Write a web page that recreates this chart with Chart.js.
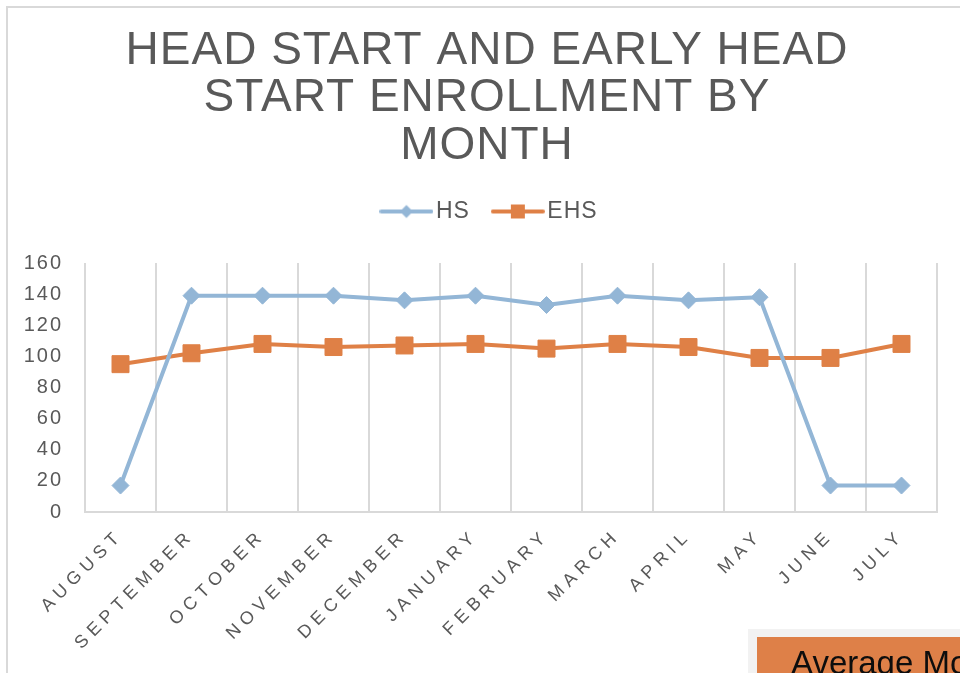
<!DOCTYPE html>
<html>
<head>
<meta charset="utf-8">
<script src="https://cdn.jsdelivr.net/npm/chart.js@4/dist/chart.umd.min.js"></script>
<style>
  html, body { margin: 0; padding: 0; background: #ffffff; overflow: hidden; width: 960px; height: 673px; }
  #frame { position: absolute; left: 6px; top: 6px; width: 2000px; height: 2000px;
           border-left: 2px solid #d9d9d9; border-top: 2px solid #d9d9d9; }
  #c { position: absolute; left: 0; top: 0; }
  #grayBox { position: absolute; left: 748px; top: 629px; width: 400px; height: 200px; background: #f2f2f2; }
  #orangeBox { position: absolute; left: 757px; top: 637px; width: 400px; height: 200px; background: #de8048;
               font-family: 'Liberation Sans', Arial, sans-serif; font-size: 33px; color: #0d0d0d;
               white-space: nowrap; }
  #orangeBox span { position: absolute; left: 34px; top: 7px; line-height: 38px; }
</style>
</head>
<body>
<div id="frame"></div>
<canvas id="c" width="960" height="673"></canvas>
<div id="grayBox"></div>
<div id="orangeBox"><span>Average Monthly Enrollment</span></div>
<script>
// ---- data ----
const months = ['AUGUST','SEPTEMBER','OCTOBER','NOVEMBER','DECEMBER','JANUARY','FEBRUARY','MARCH','APRIL','MAY','JUNE','JULY'];
const hsValues  = [17, 139, 139, 139, 136, 139, 133, 139, 136, 138, 17, 17];
const ehsValues = [95, 102, 108, 106, 107, 108, 105, 108, 106, 99, 99, 108];
const seriesNames = ['HS', 'EHS'];
const titleLines = ['HEAD START AND EARLY HEAD', 'START ENROLLMENT BY', 'MONTH'];
const yTicks = { min: 0, max: 160, step: 20 };

// ---- styles ----
const HS_COLOR = '#93b6d6';
const EHS_COLOR = '#df8046';
const TEXT_COLOR = '#595959';
const GRID_COLOR = '#d9d9d9';
const FAMILY = "'Liberation Sans', Arial, sans-serif";

// letter spacing by font size (Excel-like spaced text)
const LS = { '46': '1px', '23': '1px', '20': '2px', '18': '5.5px' };
(function () {
  const proto = CanvasRenderingContext2D.prototype;
  const desc = Object.getOwnPropertyDescriptor(proto, 'font');
  Object.defineProperty(proto, 'font', {
    configurable: true,
    get() { return desc.get.call(this); },
    set(v) {
      desc.set.call(this, v);
      const m = /(\d+(?:\.\d+)?)px/.exec(v);
      const s = m ? LS[m[1]] : null;
      try { this.letterSpacing = s || '0px'; } catch (e) {}
    }
  });
})();

function legendIcon(color, kind) {
  const cv = document.createElement('canvas');
  cv.width = 54; cv.height = 22;
  const g = cv.getContext('2d');
  g.strokeStyle = color; g.fillStyle = color;
  g.lineWidth = 4; g.lineCap = 'round';
  g.beginPath(); g.moveTo(2, 11); g.lineTo(52, 11); g.stroke();
  g.beginPath();
  if (kind === 'diamond') {
    g.moveTo(27 - 6.5, 11); g.lineTo(27, 11 - 6.5); g.lineTo(27 + 6.5, 11); g.lineTo(27, 11 + 6.5);
  } else {
    g.rect(27 - 7, 11 - 7, 14, 14);
  }
  g.closePath(); g.fill();
  return cv;
}
const icons = [legendIcon(HS_COLOR, 'diamond'), legendIcon(EHS_COLOR, 'square')];

// layout helper: extra space under legend, and centre title/legend like the original frame
const layoutTweaks = {
  id: 'layoutTweaks',
  beforeUpdate(chart) {
    const lg = chart.legend;
    if (lg && !lg._patched) {
      const orig = lg.fit;
      lg.fit = function () { orig.call(this); this.height += 30; };
      lg._patched = true;
    }
  },
  afterLayout(chart) {
    if (chart.titleBlock) { chart.titleBlock.left = 37; }
    if (chart.legend) { chart.legend.left = 49; }
  }
};

const ctx = document.getElementById('c').getContext('2d');
new Chart(ctx, {
  type: 'line',
  plugins: [layoutTweaks],
  data: {
    labels: months,
    datasets: [
      { label: seriesNames[0], data: hsValues, borderColor: HS_COLOR, backgroundColor: HS_COLOR,
        borderWidth: 4, pointStyle: 'rectRot', pointRadius: 8.5, pointBorderWidth: 1,
        pointBackgroundColor: HS_COLOR, pointBorderColor: HS_COLOR, tension: 0,
        borderCapStyle: 'round', borderJoinStyle: 'round', fill: false },
      { label: seriesNames[1], data: ehsValues, borderColor: EHS_COLOR, backgroundColor: EHS_COLOR,
        borderWidth: 4, pointStyle: 'rect', pointRadius: 12, pointBorderWidth: 1,
        pointBackgroundColor: EHS_COLOR, pointBorderColor: EHS_COLOR, tension: 0,
        borderCapStyle: 'round', borderJoinStyle: 'round', fill: false }
    ]
  },
  options: {
    responsive: false,
    animation: false,
    devicePixelRatio: 1,
    layout: { padding: { left: 0, right: 23, top: 0, bottom: 0 } },
    plugins: {
      tooltip: { enabled: false },
      title: {
        display: true,
        text: titleLines,
        color: TEXT_COLOR,
        font: { family: FAMILY, size: 46, weight: 'normal', lineHeight: 47.5 / 46 },
        padding: { top: 27.5, bottom: 0 }
      },
      legend: {
        display: true,
        position: 'top',
        labels: {
          usePointStyle: true,
          pointStyleWidth: 36,
          padding: 30,
          color: TEXT_COLOR,
          font: { family: FAMILY, size: 23 },
          generateLabels(chart) {
            const items = Chart.defaults.plugins.legend.labels.generateLabels(chart);
            items.forEach((it, i) => { it.pointStyle = icons[i]; it.fontColor = TEXT_COLOR; });
            return items;
          }
        }
      }
    },
    scales: {
      x: {
        type: 'category',
        offset: true,
        grid: { display: true, offset: true, color: GRID_COLOR, lineWidth: 2, drawTicks: false },
        border: { display: true, color: GRID_COLOR, width: 2 },
        ticks: { color: TEXT_COLOR, font: { family: FAMILY, size: 18 }, maxRotation: 45, minRotation: 45,
                 padding: 13, autoSkip: false },
        afterFit(scale) { scale.height = 161; }
      },
      y: {
        min: yTicks.min, max: yTicks.max,
        grid: { display: false, drawTicks: false },
        border: { display: false },
        ticks: { stepSize: yTicks.step, color: TEXT_COLOR, font: { family: FAMILY, size: 20 }, padding: 22 },
        afterFit(scale) { scale.width = 85; }
      }
    }
  }
});
</script>
</body>
</html>
